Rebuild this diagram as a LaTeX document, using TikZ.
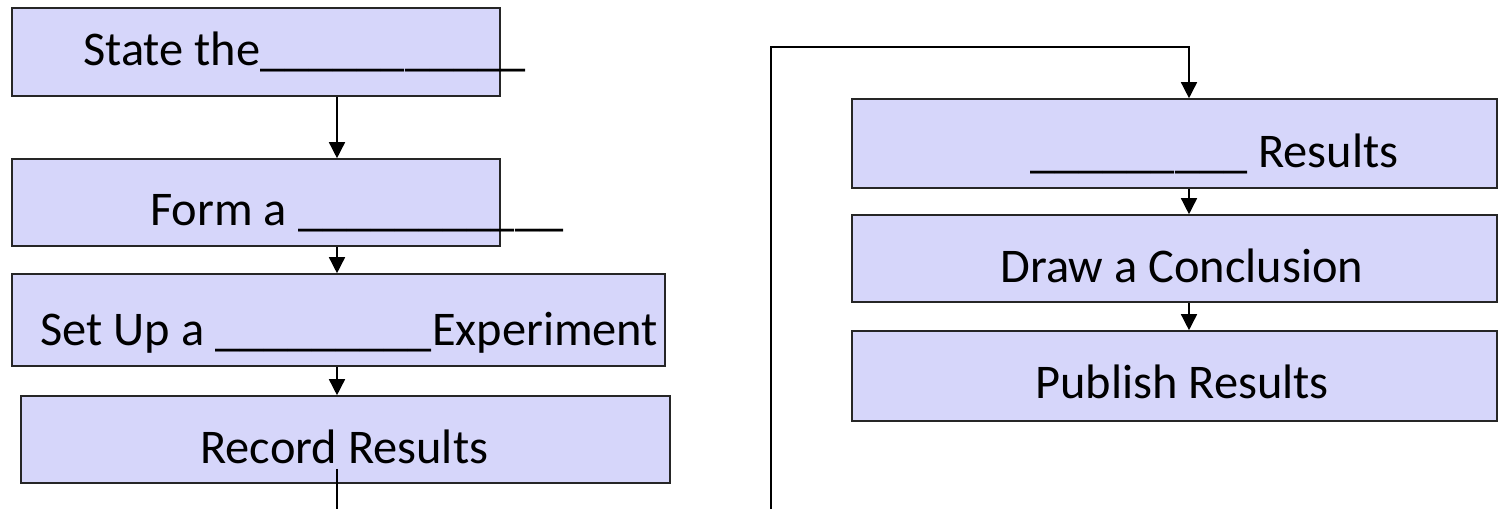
\documentclass[tikz,border=0pt]{standalone}
\usepackage{fontspec}
\setmainfont{Carlito}
\usetikzlibrary{arrows.meta,fit,calc}
\begin{document}
\begin{tikzpicture}[x=0.5pt,y=-0.5pt,
  box/.style={draw=black!85,line width=0.8pt,fill=boxfill,inner sep=0pt,rectangle},
  lbl/.style={anchor=base west,inner sep=0pt,font=\fontsize{24.2}{29}\selectfont},
  arr/.style={line width=0.75pt,-{Triangle[length=8pt,width=8pt]}},
  ln/.style={line width=0.75pt}]
\definecolor{boxfill}{RGB}{214,214,250}
\useasboundingbox (0,0) rectangle (1503,509);
\coordinate (ax) at (337,0);
\coordinate (bx) at (1189,0);
% left column
\node[box,fit={(12,8)(500,96)}] (s1) {};
\node[box,fit={(12,159)(500,246)}] (s2) {};
\node[box,fit={(12,274)(665,366)}] (s3) {};
\node[box,fit={(21,396)(670,483)}] (s4) {};
% right column
\node[box,fit={(852,99)(1497,188)}] (r1) {};
\node[box,fit={(852,215)(1497,302)}] (r2) {};
\node[box,fit={(852,331)(1497,421)}] (r3) {};
% labels
\node[lbl] (t1) at (83,65) {State the\_\_\_\_\_\_\_\_\_\_\_};
\node[lbl] (t2) at (150,225) {Form a \_\_\_\_\_\_\_\_\_\_\_};
\node[lbl] (t3) at (40,345) {Set Up a \_\_\_\_\_\_\_\_\_Experiment};
\node[lbl] (t4) at (200,463) {Record Results};
\node[lbl] (u1) at (1030,167) {\_\_\_\_\_\_\_\_\_ Results};
\node[lbl] (u2) at (1000,282) {Draw a Conclusion};
\node[lbl] (u3) at (1035,398) {Publish Results};
% connectors
\draw[arr] (s1.south -| ax) -- (s2.north -| ax);
\draw[arr] (s2.south -| ax) -- (s3.north -| ax);
\draw[arr] (s3.south -| ax) -- (s4.north -| ax);
\coordinate (lend) at (337,509);
\draw[ln] ($(s4.south -| ax)+(0,-15)$) -- (lend);
\coordinate (rstart) at (771,509);
\coordinate (rtop) at (771,47);
\draw[arr] (rstart) -- (rtop) -| (r1.north -| bx);
\draw[arr] (r1.south -| bx) -- (r2.north -| bx);
\draw[arr] (r2.south -| bx) -- (r3.north -| bx);
\end{tikzpicture}
\end{document}
